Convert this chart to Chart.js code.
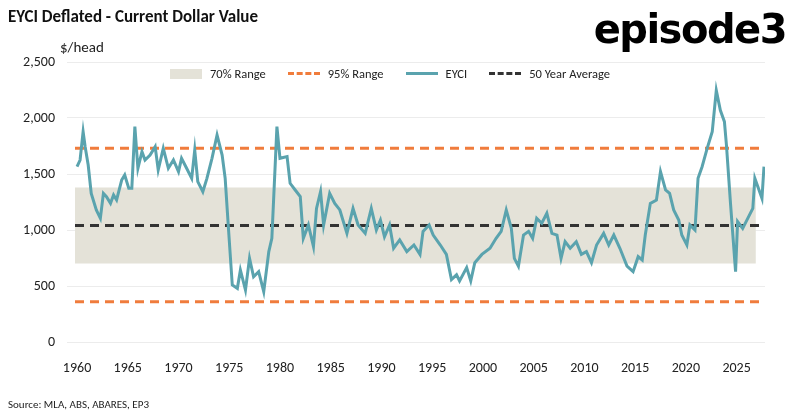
<!DOCTYPE html>
<html><head><meta charset="utf-8">
<script src="https://cdn.jsdelivr.net/npm/chart.js@4"></script>
<style>
body{margin:0;background:#fff;font-family:Calibri,"Liberation Sans",Arial,sans-serif;}
#wrap{position:relative;width:800px;height:417px;}
#title{position:absolute;left:8px;top:6px;font-size:17px;font-weight:bold;color:#111;}
#unit{position:absolute;left:60px;top:38px;font-size:15px;color:#222;}
#logo{position:absolute;right:14px;top:6px;font-size:40px;font-weight:bold;letter-spacing:-1.5px;color:#000;font-family:"DejaVu Sans",sans-serif;}
#src{position:absolute;left:8px;top:398px;font-size:11px;color:#222;}
#legend{position:absolute;left:170px;top:66px;font-size:12.5px;color:#222;display:flex;align-items:center;gap:0;}
#legend span.i{display:inline-block;margin-right:8px;vertical-align:middle;}
#legend .it{display:flex;align-items:center;margin-right:22px;}
canvas{position:absolute;left:0;top:0;}
</style></head><body>
<div id="wrap">
<canvas id="c" width="800" height="417"></canvas>
<div id="title">EYCI Deflated - Current Dollar Value</div>
<div id="unit">$/head</div>
<div id="logo">episode3</div>
<div id="legend">
 <div class="it"><span class="i" style="width:32px;height:10px;background:#e4e2d8"></span>70% Range</div>
 <div class="it"><span class="i" style="width:32px;border-top:3px dashed #f07c3c"></span>95% Range</div>
 <div class="it"><span class="i" style="width:32px;border-top:3px solid #5aa3ae"></span>EYCI</div>
 <div class="it"><span class="i" style="width:32px;border-top:3px dashed #333"></span>50 Year Average</div>
</div>
<div id="src">Source: MLA, ABS, ABARES, EP3</div>
</div>
<script>
const years = [1960.0,1960.3,1960.6,1960.8,1961.1,1961.4,1961.9,1962.3,1962.6,1962.9,1963.3,1963.6,1963.9,1964.4,1964.7,1965.1,1965.4,1965.7,1966.0,1966.4,1966.7,1967.2,1967.7,1968.0,1968.5,1969.0,1969.5,1970.0,1970.3,1970.8,1971.3,1971.6,1971.9,1972.4,1972.8,1973.3,1973.8,1974.3,1974.6,1974.9,1975.3,1975.8,1976.1,1976.6,1977.0,1977.4,1977.9,1978.4,1978.9,1979.2,1979.7,1980.0,1980.7,1981.0,1981.5,1982.0,1982.3,1982.8,1983.3,1983.6,1984.0,1984.3,1984.9,1985.4,1985.9,1986.6,1987.2,1987.7,1988.4,1989.0,1989.5,1989.9,1990.3,1990.8,1991.2,1991.8,1992.5,1993.2,1993.8,1994.1,1994.7,1995.1,1995.8,1996.4,1996.9,1997.4,1997.7,1998.4,1998.8,1999.2,1999.9,2000.7,2001.3,2001.8,2002.3,2002.8,2003.1,2003.5,2004.0,2004.5,2004.9,2005.3,2005.8,2006.3,2006.8,2007.3,2007.7,2008.1,2008.6,2009.2,2009.7,2010.2,2010.7,2011.2,2011.9,2012.4,2012.9,2013.5,2014.2,2014.8,2015.3,2015.7,2016.0,2016.5,2017.1,2017.5,2018.0,2018.4,2018.8,2019.3,2019.6,2020.1,2020.4,2020.9,2021.2,2021.6,2022.1,2022.6,2023.0,2023.4,2023.8,2024.0,2024.4,2024.9,2025.1,2025.6,2026.1,2026.6,2026.8,2027.5,2027.7];
const eyci = [1565,1625,1878,1744,1580,1327,1179,1104,1327,1298,1238,1313,1268,1446,1491,1372,1372,1923,1551,1699,1625,1669,1744,1536,1729,1551,1625,1521,1640,1551,1461,1714,1432,1342,1461,1640,1848,1669,1461,1045,509,479,643,464,747,583,628,449,807,926,1923,1640,1655,1417,1357,1298,926,1045,852,1193,1342,1045,1327,1238,1179,970,1193,1045,970,1193,1000,1089,940,1045,837,911,807,866,782,988,1045,955,866,782,558,600,545,664,545,708,782,837,926,988,1179,1015,747,677,955,988,926,1104,1060,1149,970,955,747,896,837,896,782,807,708,866,970,866,955,837,677,628,762,732,955,1238,1268,1521,1357,1327,1179,1089,955,866,1045,1000,1461,1565,1729,1878,2247,2069,1967,1758,1238,628,1075,1015,1104,1193,1461,1283,1565];
const xStart = 1959.8, xEnd = 2027.8, bandEnd = 2026.9;
const range70 = [700, 1380];
const range95 = [360, 1730];
const avg50 = 1040;
const yTicks = [0,500,1000,1500,2000,2500];

const flat = (v, a, b) => [{x:a,y:v},{x:b,y:v}];
new Chart(document.getElementById('c'), {
  type: 'line',
  data: { datasets: [
    {data: flat(range70[0], xStart, bandEnd), borderWidth:0, pointRadius:0, fill:false, order:10},
    {data: flat(range70[1], xStart, bandEnd), borderWidth:0, pointRadius:0, fill:'-1', backgroundColor:'#e4e2d8', order:9},
    {data: flat(range95[0], xStart, xEnd), borderColor:'#f07c3c', borderDash:[9,6], borderWidth:3, pointRadius:0, order:5},
    {data: flat(range95[1], xStart, xEnd), borderColor:'#f07c3c', borderDash:[9,6], borderWidth:3, pointRadius:0, order:5},
    {data: years.map((y,i)=>({x:y,y:eyci[i]})), borderColor:'#5aa3ae', borderWidth:3, pointRadius:0, tension:0, order:1},
    {data: flat(avg50, xStart, xEnd), borderColor:'#333', borderDash:[9,6], borderWidth:3, pointRadius:0, order:2}
  ]},
  options: {
    responsive:false, animation:false,
    layout:{padding:{top:62,right:35,left:0,bottom:0}},
    plugins:{legend:{display:false}, tooltip:{enabled:false}},
    scales:{
      x:{type:'linear', min:xStart, max:xEnd,
        afterBuildTicks: s => { s.ticks = [1960,1965,1970,1975,1980,1985,1990,1995,2000,2005,2010,2015,2020,2025].map(v=>({value:v})); },
        afterFit: s => { s.height = 75; },
        grid:{display:false}, border:{display:false},
        ticks:{color:'#222', font:{size:14, family:'Calibri, "Liberation Sans", Arial'}, padding:10, callback:v=>String(v), maxRotation:0}},
      y:{min:0, max:2500,
        afterBuildTicks: s => { s.ticks = yTicks.map(v=>({value:v})); },
        afterFit: s => { s.width = 75; },
        grid:{color:'#ececec', lineWidth:1}, border:{display:false},
        ticks:{color:'#222', font:{size:14, family:'Calibri, "Liberation Sans", Arial'}, padding:12,
          callback:v=>v.toLocaleString('en-US')}}
    }
  }
});
</script>
</body></html>
